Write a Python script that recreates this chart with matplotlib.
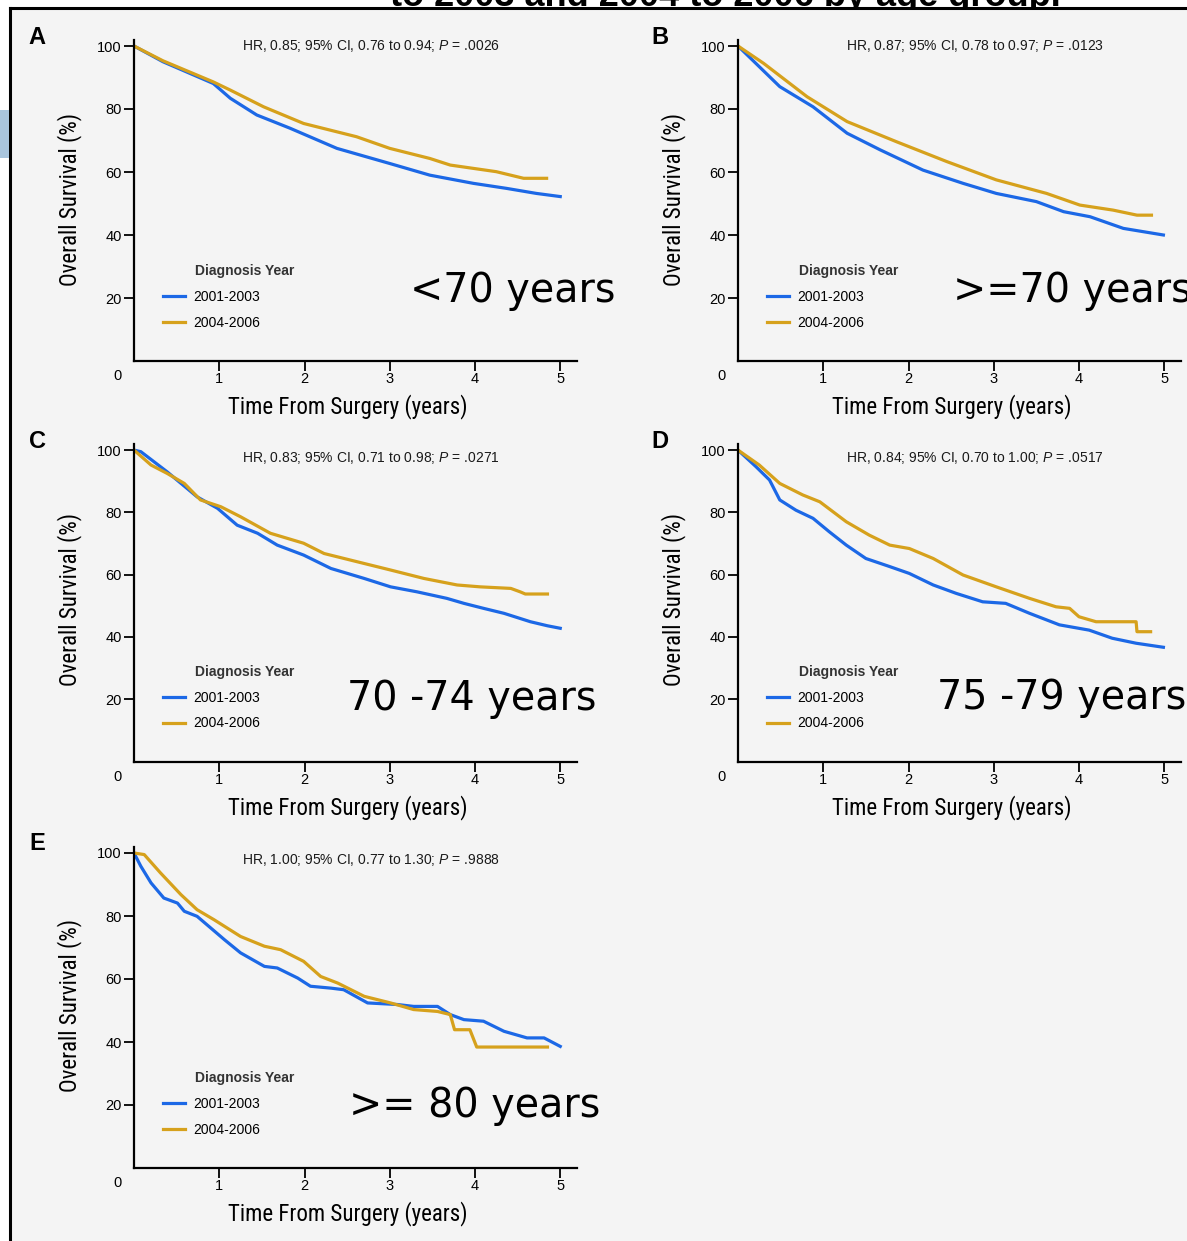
import matplotlib
matplotlib.use("Agg")
import matplotlib.pyplot as plt
from matplotlib import font_manager
from matplotlib.patches import Rectangle
from matplotlib.lines import Line2D

# ---- data (time in years, survival in %) ----
a_blue_t = [0, 0.34, 0.93, 1.13, 1.44, 1.83, 2.38, 3.0, 3.47, 3.98, 4.37, 4.72, 5.0]
a_blue_s = [100, 95.0, 88.1, 83.4, 78.1, 73.9, 67.5, 62.7, 59.0, 56.4, 54.8, 53.2, 52.2]
a_gold_t = [0, 0.34, 0.93, 1.13, 1.52, 1.99, 2.61, 3.0, 3.47, 3.71, 4.25, 4.57, 4.84]
a_gold_s = [100, 95.3, 88.6, 86.0, 80.7, 75.4, 71.2, 67.5, 64.3, 62.2, 60.1, 58.0, 58.0]

b_blue_t = [0, 0.49, 0.88, 1.28, 1.67, 2.17, 2.64, 3.03, 3.50, 3.82, 4.13, 4.52, 4.99]
b_blue_s = [100, 87.1, 80.7, 72.3, 67.0, 60.6, 56.4, 53.2, 50.6, 47.4, 45.8, 42.1, 40.0]
b_gold_t = [0, 0.30, 0.81, 1.28, 1.86, 2.45, 3.03, 3.62, 4.01, 4.40, 4.68, 4.85]
b_gold_s = [100, 94.5, 83.9, 76.0, 69.6, 63.3, 57.5, 53.2, 49.5, 47.9, 46.3, 46.3]

c_blue_t = [0, 0.08, 0.39, 0.74, 0.98, 1.21, 1.45, 1.68, 1.99, 2.31, 2.70, 3.01, 3.32,
            3.67, 3.87, 4.10, 4.34, 4.65, 4.85, 5.0]
c_blue_s = [100, 99.5, 93.0, 85.0, 81.3, 75.9, 73.3, 69.5, 66.3, 62.0, 58.8, 56.1, 54.5,
            52.4, 50.8, 49.2, 47.6, 44.9, 43.6, 42.8]
c_gold_t = [0, 0.20, 0.39, 0.59, 0.78, 1.02, 1.25, 1.60, 1.99, 2.23, 2.70, 3.01, 3.40,
            3.79, 4.06, 4.42, 4.53, 4.59, 4.85]
c_gold_s = [100, 95.2, 92.5, 89.3, 84.0, 81.8, 78.6, 73.3, 70.1, 66.8, 63.6, 61.5, 58.8,
            56.7, 56.1, 55.6, 54.5, 53.8, 53.8]

d_blue_t = [0, 0.21, 0.37, 0.49, 0.68, 0.88, 1.07, 1.27, 1.50, 1.78, 2.01, 2.29, 2.56,
            2.87, 3.14, 3.42, 3.77, 4.12, 4.39, 4.67, 4.99]
d_blue_s = [100, 94.7, 90.4, 84.0, 80.7, 78.1, 73.8, 69.5, 65.2, 62.6, 60.4, 56.7, 54.0,
            51.3, 50.8, 47.6, 43.9, 42.2, 39.6, 38.0, 36.7]
d_gold_t = [0, 0.25, 0.49, 0.76, 0.96, 1.27, 1.54, 1.78, 2.01, 2.29, 2.64, 3.03, 3.42,
            3.73, 3.89, 4.00, 4.20, 4.67, 4.68, 4.84]
d_gold_s = [100, 95.2, 89.3, 85.6, 83.4, 77.0, 72.7, 69.5, 68.4, 65.2, 59.9, 56.1, 52.4,
            49.7, 49.2, 46.5, 44.9, 44.9, 41.7, 41.7]

e_blue_t = [0, 0.08, 0.20, 0.35, 0.51, 0.59, 0.74, 0.90, 1.06, 1.25, 1.53, 1.68, 1.92,
            2.07, 2.31, 2.46, 2.74, 3.09, 3.28, 3.56, 3.71, 3.87, 4.10, 4.34, 4.61, 4.81, 5.0]
e_blue_s = [100, 95.8, 90.5, 85.7, 84.1, 81.5, 79.9, 76.2, 72.5, 68.3, 64.0, 63.5, 60.3,
            57.7, 57.1, 56.6, 52.4, 51.9, 51.3, 51.3, 48.7, 47.1, 46.6, 43.4, 41.3, 41.3, 38.6]
e_gold_t = [0, 0.12, 0.31, 0.55, 0.74, 0.94, 1.25, 1.53, 1.72, 1.99, 2.19, 2.39, 2.70,
            3.01, 3.28, 3.56, 3.71, 3.76, 3.94, 4.02, 4.85]
e_gold_s = [100, 99.5, 93.7, 86.8, 82.0, 78.8, 73.5, 70.4, 69.3, 65.6, 60.8, 58.7, 54.5,
            52.4, 50.3, 49.7, 48.7, 43.9, 43.9, 38.4, 38.4]

panel_letters = ["A", "B", "C", "D", "E"]
hr_texts = [
    r"HR, 0.85; 95% CI, 0.76 to 0.94; $\mathit{P}$ = .0026",
    r"HR, 0.87; 95% CI, 0.78 to 0.97; $\mathit{P}$ = .0123",
    r"HR, 0.83; 95% CI, 0.71 to 0.98; $\mathit{P}$ = .0271",
    r"HR, 0.84; 95% CI, 0.70 to 1.00; $\mathit{P}$ = .0517",
    r"HR, 1.00; 95% CI, 0.77 to 1.30; $\mathit{P}$ = .9888",
]
age_labels = ["<70 years", ">=70 years", "70 -74 years", "75 -79 years", ">= 80 years"]
group_labels = ["2001-2003", "2004-2006"]
yticks = [20, 40, 60, 80, 100]
xticks = [1, 2, 3, 4, 5]

curves = [
    (a_blue_t, a_blue_s, a_gold_t, a_gold_s),
    (b_blue_t, b_blue_s, b_gold_t, b_gold_s),
    (c_blue_t, c_blue_s, c_gold_t, c_gold_s),
    (d_blue_t, d_blue_s, d_gold_t, d_gold_s),
    (e_blue_t, e_blue_s, e_gold_t, e_gold_s),
]

# ---- layout (pixels) ----
W, H = 1187, 1241
XS = 85.25  # px per year
# origin x, origin y, px per %, age label x, age label baseline, hr y, letter x, letter y
panels = [
    (134, 361, 3.15, 410, 302, 46, 37, 38),
    (738, 361, 3.15, 953, 302, 46, 660, 38),
    (134, 761.6, 3.115, 347, 710, 458, 37, 441),
    (738, 761.6, 3.115, 937, 709, 458, 660, 441),
    (134, 1168, 3.15, 349, 1117, 860, 37, 843),
]

BLUE = "#1c68e6"
GOLD = "#d6a11c"
BG = "#f4f4f4"

names = {f.name for f in font_manager.fontManager.ttflist}
SANS = "Liberation Sans" if "Liberation Sans" in names else "DejaVu Sans"
COND = None
for cand in ["Roboto Condensed", "Liberation Sans Narrow", "Open Sans Condensed"]:
    if cand in names:
        COND = cand
        break

plt.rcParams["font.family"] = [SANS, "DejaVu Sans"]
plt.rcParams["mathtext.fontset"] = "custom"
plt.rcParams["mathtext.it"] = SANS + ":italic"
plt.rcParams["mathtext.rm"] = SANS


def fx(px):
    return px / W


def fy(py):
    return 1 - py / H


fig = plt.figure(figsize=(W / 100, H / 100), dpi=100)
fig.patch.set_facecolor("white")

# cut-off caption line at the very top, hidden below the frame
fig.text(fx(390), fy(6), "to 2003 and 2004 to 2006 by age group.", fontsize=26,
         fontweight="bold", ha="left", va="baseline", zorder=0)
fig.add_artist(Rectangle((fx(10), 0), 1 - fx(10), fy(8), transform=fig.transFigure,
                         facecolor=BG, edgecolor="none", zorder=1))
fig.add_artist(Line2D([fx(10), fx(10)], [0, fy(8)], color="black", lw=2.2, zorder=2))
fig.add_artist(Line2D([fx(10), 1], [fy(8), fy(8)], color="black", lw=2.2, zorder=2))
fig.add_artist(Rectangle((0, fy(158)), fx(9), fy(110) - fy(158), transform=fig.transFigure,
                         facecolor="#a9c5dd", edgecolor="none", zorder=2))

label_font = COND if COND else SANS
label_size = 16.5 if COND else 14

for i, (x0, y0, ys, agx, agy, hry, lx, ly) in enumerate(panels):
    bt, bs, gt, gs = curves[i]
    ax = fig.add_axes([fx(x0), fy(y0), 5.2 * XS / W, 102 * ys / H])
    ax.set_zorder(3)
    ax.patch.set_visible(False)
    ax.plot(bt, bs, color=BLUE, lw=2.3, label=group_labels[0], solid_joinstyle="round")
    ax.plot(gt, gs, color=GOLD, lw=2.3, label=group_labels[1], solid_joinstyle="round")
    ax.set_xlim(0, 5.2)
    ax.set_ylim(0, 102)
    for s in ["top", "right"]:
        ax.spines[s].set_visible(False)
    for s in ["left", "bottom"]:
        ax.spines[s].set_linewidth(1.6)
    ax.set_xticks(xticks)
    ax.set_yticks(yticks)
    ax.tick_params(axis="both", direction="out", length=7, width=1.3, labelsize=10.5, pad=2)
    ax.tick_params(axis="x", pad=1)
    ax.annotate("0", xy=(0, 0), xycoords="axes fraction", xytext=(-16, -15),
                textcoords="offset pixels", ha="center", va="center", fontsize=10.5)

    # legend
    fig.text(fx(x0 + 61), fy(y0 - 90), "Diagnosis Year", fontsize=10, ha="left",
             va="center", color="#333333", fontweight="bold", zorder=4)
    ax.legend(loc="upper left", bbox_to_anchor=(fx(x0 + 29), fy(y0 - 71)),
              bbox_transform=fig.transFigure, frameon=False, fontsize=10,
              handlelength=1.6, handletextpad=0.6, labelspacing=0.85, borderpad=0,
              borderaxespad=0)

    # HR annotation
    fig.text(fx(x0 + 237), fy(hry), hr_texts[i],
             fontsize=10, ha="center", va="center", color="#1a1a1a", zorder=4)

    # panel letter
    fig.text(fx(lx), fy(ly), panel_letters[i],
             fontsize=17, fontweight="bold", ha="center", va="center", zorder=4)

    # axis labels
    fig.text(fx(x0 - 64), fy(y0 - 162), "Overall Survival (%)", rotation=90,
             fontsize=label_size, family=label_font, ha="center", va="center", zorder=4)
    fig.text(fx(x0 + 214), fy(y0 + 46), "Time From Surgery (years)",
             fontsize=label_size, family=label_font, ha="center", va="center", zorder=4)

    # big age group label
    fig.text(fx(agx), fy(agy), age_labels[i], fontsize=28.5, family="DejaVu Sans",
             ha="left", va="baseline", zorder=4)

fig.savefig("out.png", dpi=100)
